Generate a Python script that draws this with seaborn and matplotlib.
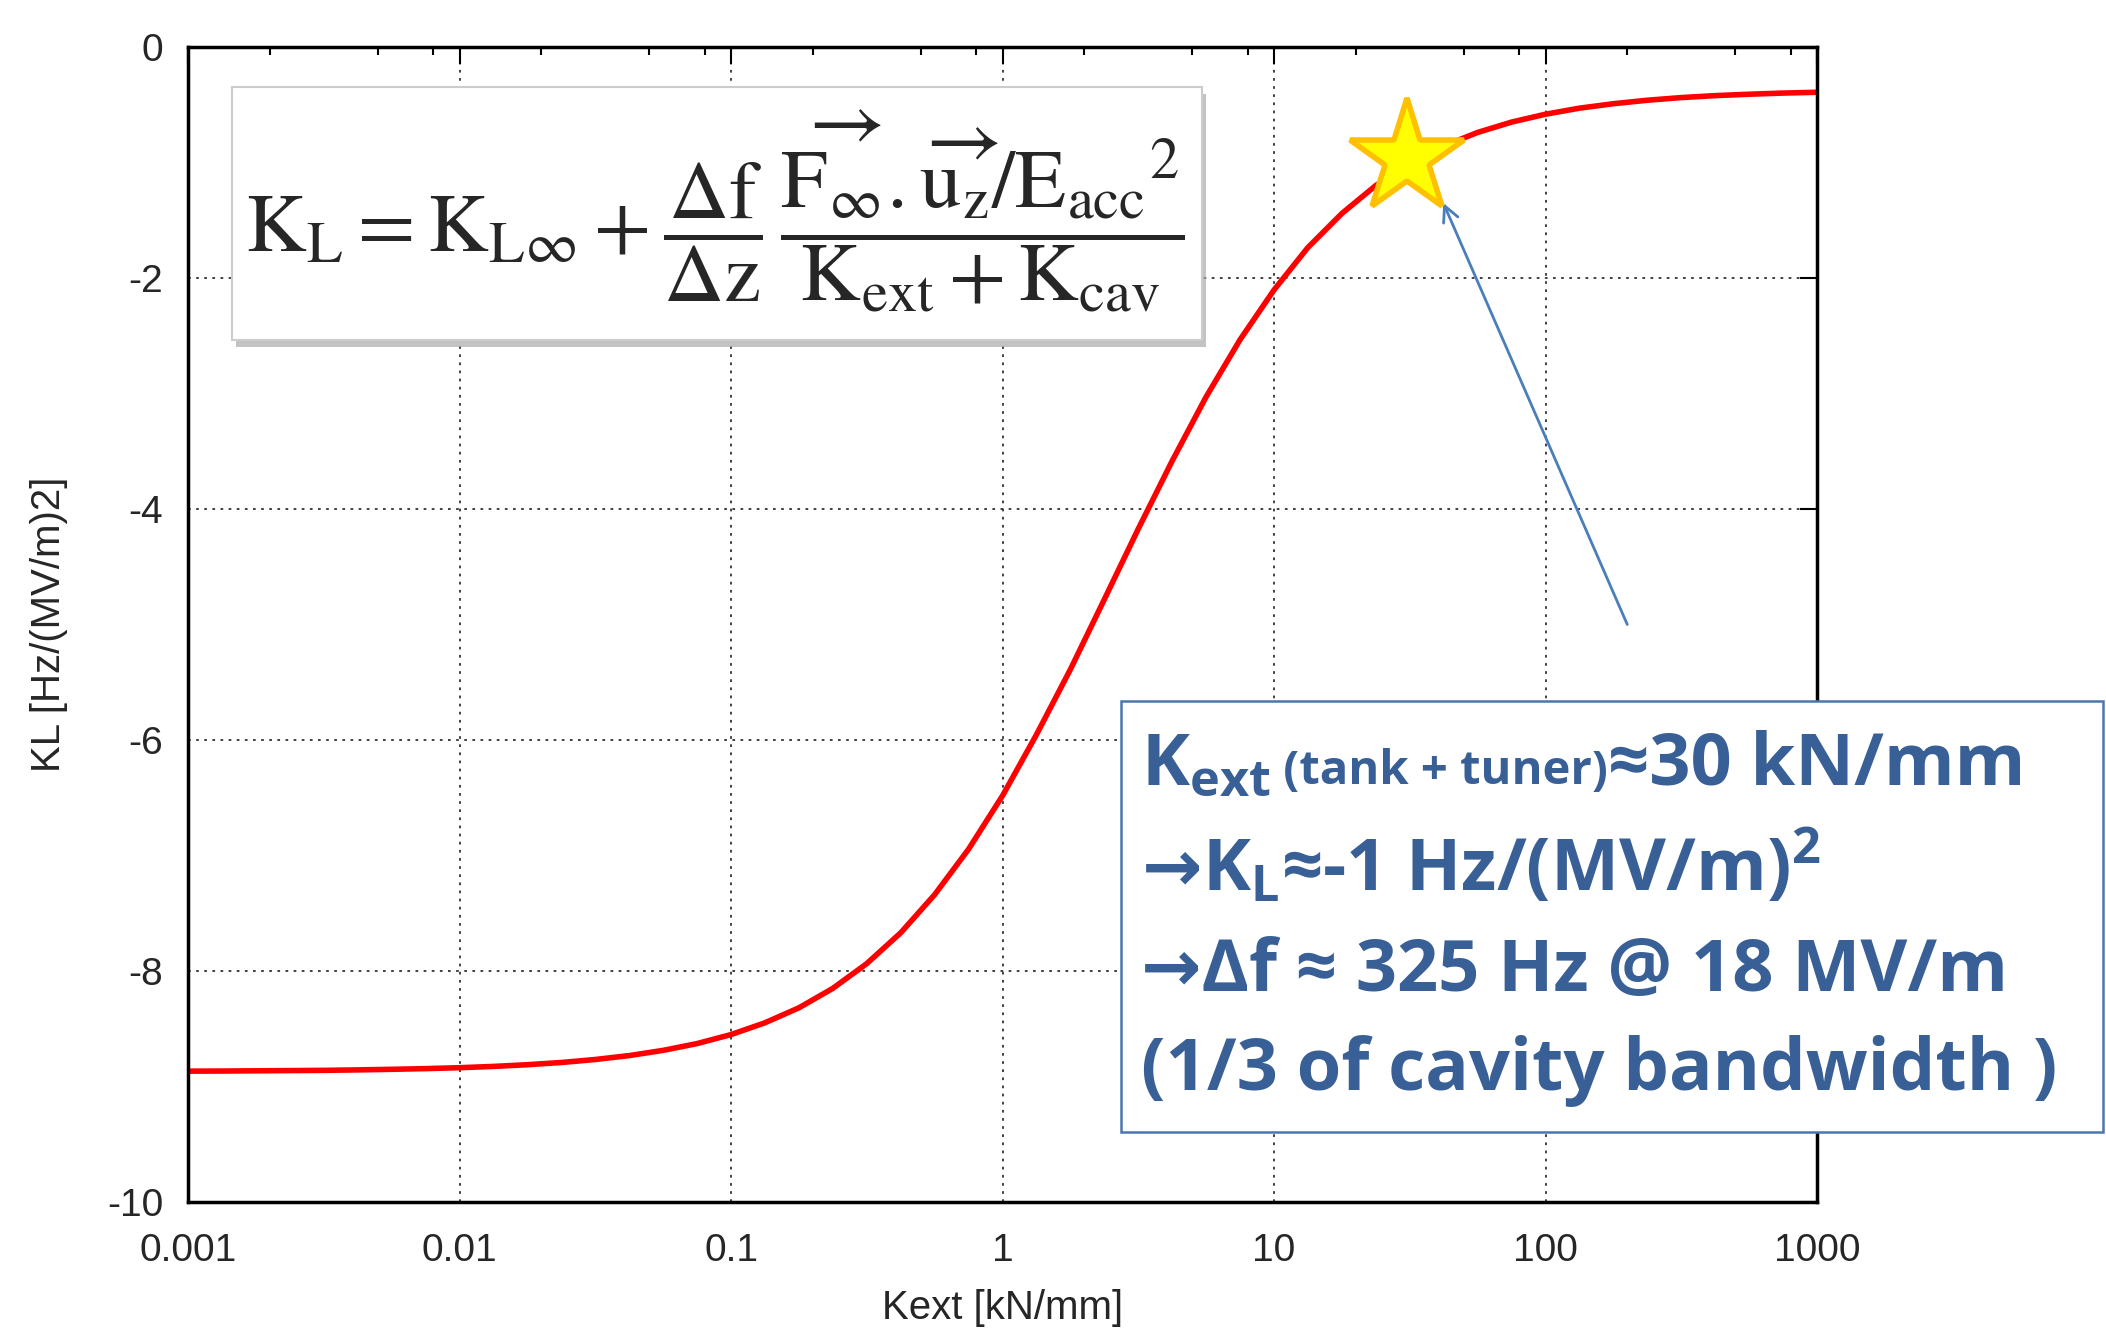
import matplotlib
matplotlib.use('Agg')
import matplotlib.pyplot as plt
import seaborn as sns
import pandas as pd
from matplotlib.patches import Rectangle
from matplotlib.offsetbox import TextArea, HPacker, VPacker, AnchoredOffsetbox
from matplotlib.ticker import LogLocator, NullFormatter

# --- data
kext = [0.001, 0.00133, 0.00178, 0.00237, 0.00316, 0.00422, 0.00562, 0.0075,
        0.01, 0.0133, 0.0178, 0.0237, 0.0316, 0.0422, 0.0562, 0.075,
        0.1, 0.133, 0.178, 0.237, 0.316, 0.422, 0.562, 0.75,
        1, 1.33, 1.78, 2.37, 3.16, 4.22, 5.62, 7.5,
        10, 13.3, 17.8, 23.7, 31.6, 42.2, 56.2, 75,
        100, 133, 178, 237, 316, 422, 562, 750, 1000]
kl = [-8.867, -8.866, -8.864, -8.862, -8.860, -8.856, -8.851, -8.845,
      -8.837, -8.826, -8.811, -8.792, -8.766, -8.732, -8.687, -8.628,
      -8.550, -8.449, -8.318, -8.150, -7.936, -7.668, -7.339, -6.944,
      -6.482, -5.958, -5.386, -4.783, -4.173, -3.581, -3.029, -2.533,
      -2.103, -1.738, -1.440, -1.199, -1.006, -0.856, -0.740, -0.650,
      -0.582, -0.530, -0.491, -0.461, -0.438, -0.421, -0.409, -0.399, -0.392]

xticks = [0.001, 0.01, 0.1, 1, 10, 100, 1000]
xtick_labels = ['0.001', '0.01', '0.1', '1', '10', '100', '1000']
yticks = [0, -2, -4, -6, -8, -10]
ytick_labels = ['0', '-2', '-4', '-6', '-8', '-10']

star_k, star_kl = 31, -0.96
arrow_tail = (200, -5.0)
arrow_head = (42, -1.35)

formula = (r'$\mathrm{K_L = K_{L\infty} + \dfrac{\Delta f}{\Delta z}\,'
           r'\dfrac{\overrightarrow{F_\infty}.\overrightarrow{u_z}/{E_{acc}}^{2}}{K_{ext} + K_{cav}}}$')

sns.set_style('white')
plt.rcParams['font.family'] = ['Liberation Sans', 'DejaVu Sans']
plt.rcParams['mathtext.bf'] = 'Open Sans:bold'
plt.rcParams['mathtext.rm'] = 'Open Sans'
plt.rcParams['mathtext.it'] = 'Open Sans:italic'

df = pd.DataFrame({'kext': kext, 'kl': kl})

fig = plt.figure(figsize=(21.06, 13.31), dpi=100)
ax = fig.add_axes([0.0893, 0.0969, 0.7735, 0.8678])

sns.lineplot(data=df, x='kext', y='kl', color='red', lw=4, ax=ax)
ax.set_xscale('log')
ax.set_xlim(0.001, 1000)
ax.set_ylim(-10, 0)

ax.set_xticks(xticks)
ax.set_xticklabels(xtick_labels)
ax.xaxis.set_minor_locator(LogLocator(base=10, subs=[2, 5, 8], numticks=20))
ax.xaxis.set_minor_formatter(NullFormatter())
ax.set_yticks(yticks)
ax.set_yticklabels(ytick_labels)

ax.tick_params(which='major', direction='in', top=True, right=True,
               length=12, width=1.5, labelsize=28, color='black')
ax.tick_params(axis='x', which='major', pad=22)
ax.tick_params(axis='y', which='major', pad=18)
ax.tick_params(which='minor', direction='in', top=True, right=True,
               length=6, width=1.5, color='black')
for s in ax.spines.values():
    s.set_linewidth(2.5)
    s.set_color('black')

ax.grid(True, which='major', ls=(0, (1.5, 3)), color='#333333', lw=1.3)

ax.set_xlabel('Kext [kN/mm]', fontsize=29)
ax.set_ylabel('KL [Hz/(MV/m)2]', fontsize=29)
ax.xaxis.set_label_coords(0.5, -0.075)
ax.yaxis.set_label_coords(-0.074, 0.5)

# arrow and star
ax.annotate('', xy=arrow_head, xytext=arrow_tail,
            arrowprops=dict(arrowstyle='->', color='#4A7EBB', lw=2,
                            mutation_scale=28, shrinkA=0, shrinkB=0), zorder=4)
ax.plot([star_k], [star_kl], marker='*', ms=86, mfc='#FFFF00', mec='#FFC000',
        mew=4, ls='none', zorder=5)

# formula box
fx, fy, fw, fh = 0.1102, 0.7446, 0.4606, 0.1901
fig.add_artist(Rectangle((fx + 0.002, fy - 0.005), fw, fh, transform=fig.transFigure,
                         facecolor='#AAAAAA', edgecolor='none', alpha=0.7, zorder=8))
fig.add_artist(Rectangle((fx, fy), fw, fh, transform=fig.transFigure,
                         facecolor='white', edgecolor='#CCCCCC', lw=1.5, zorder=9))
fig.text(0.3395, 0.841, formula, fontsize=60, math_fontfamily='stix',
         ha='center', va='center', zorder=10)

# note box
bx, by, bw, bh = 0.5323, 0.1495, 0.4663, 0.3238
fig.add_artist(Rectangle((bx, by), bw, bh, transform=fig.transFigure,
                         facecolor='white', edgecolor='#4A76AE', lw=1.8, zorder=9))
tc = '#386096'
fam = ['Open Sans', 'DejaVu Sans']
big = dict(color=tc, fontsize=52, fontweight='bold', family=fam, math_fontfamily='custom')
small = dict(color=tc, fontsize=34, fontweight='bold', family=fam, math_fontfamily='custom')

line1 = HPacker(children=[TextArea(r'K$_\mathbf{ext}$', textprops=big),
                          TextArea(' (tank + tuner)', textprops=small),
                          TextArea('≈30 kN/mm', textprops=big)],
                align='baseline', pad=0, sep=0)
line2 = HPacker(children=[TextArea('→', textprops=big),
                          TextArea(r'K$_\mathbf{L}$≈-1 Hz/(MV/m)$^\mathbf{2}$', textprops=big)],
                align='baseline', pad=0, sep=0)
line3 = TextArea('→Δf ≈ 325 Hz @ 18 MV/m', textprops=big)
line4 = TextArea('(1/3 of cavity bandwidth )', textprops=big)
vp = VPacker(children=[line1, line2, line3, line4], align='left', pad=0, sep=20)
ab = AnchoredOffsetbox(loc='upper left', child=vp, pad=0, borderpad=0, frameon=False,
                       bbox_to_anchor=(0.5420, 0.452), bbox_transform=fig.transFigure)
ab.set_zorder(10)
fig.add_artist(ab)

plt.savefig('out.png', dpi=100)
plt.close()
